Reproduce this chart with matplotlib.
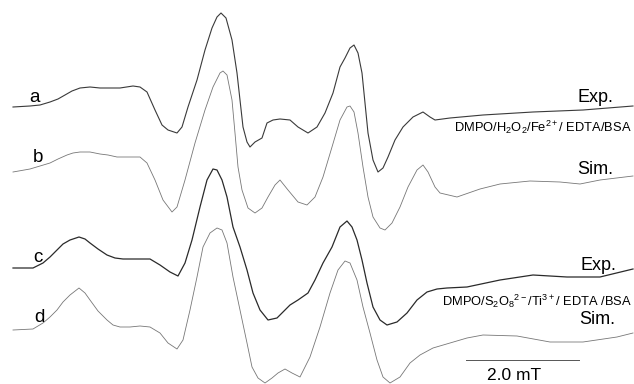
import matplotlib
matplotlib.use('Agg')
import matplotlib.pyplot as plt

plt.rcParams['font.family'] = ['Liberation Sans', 'DejaVu Sans']
plt.rcParams['mathtext.fontset'] = 'custom'
plt.rcParams['mathtext.rm'] = 'Liberation Sans'
plt.rcParams['mathtext.it'] = 'Liberation Sans:italic'

# field in arbitrary units (about 56.5 units per mT), signal
# (signal grows downward, stacked traces share one frame)
a_field = [13, 30, 40, 50, 58, 65, 72, 80, 90, 100, 110, 120, 133, 140, 147, 155, 162, 168, 177, 182, 188,
           197, 205, 212, 217, 221, 226, 232, 237, 240, 243, 247, 250, 255, 262, 267, 273, 280, 290, 298,
           308, 317, 325, 333, 340, 345, 350, 354, 358, 362, 365, 368, 373, 378, 383, 388, 395, 403, 413,
           423, 430, 435, 450, 483, 533, 583, 633]
a_signal = [107, 106, 105, 102, 99, 95, 91, 88, 87, 88, 88, 88, 86, 87, 92, 110, 125, 130, 133, 127, 107,
            80, 50, 28, 17, 13, 18, 40, 73, 100, 127, 142, 147, 142, 138, 123, 120, 119, 120, 127,
            133, 127, 113, 93, 67, 58, 48, 45, 53, 73, 103, 133, 160, 172, 168, 157, 140, 127, 117,
            112, 117, 120, 118, 115, 112, 110, 106]

b_field = [13, 30, 40, 50, 58, 67, 73, 80, 90, 100, 108, 117, 125, 133, 140, 147, 155, 163, 172, 177, 185,
           195, 205, 213, 220, 223, 227, 232, 235, 238, 242, 248, 255, 262, 268, 275, 280, 288, 298, 307,
           315, 323, 332, 340, 347, 350, 354, 358, 363, 368, 373, 380, 385, 392, 400, 408, 417, 423, 428,
           435, 440, 457, 480, 500, 530, 560, 580, 600, 633]
b_signal = [172, 169, 166, 163, 159, 155, 153, 152, 152, 154, 155, 157, 157, 157, 157, 163, 180, 200, 212, 207, 180,
            143, 110, 87, 73, 71, 75, 100, 133, 167, 190, 208, 213, 208, 197, 185, 180, 190, 202, 205,
            197, 177, 147, 120, 107, 106, 112, 133, 167, 197, 217, 228, 230, 223, 207, 187, 170, 165, 172,
            187, 193, 197, 189, 184, 181, 182, 184, 180, 176]

c_field = [13, 33, 43, 50, 57, 63, 70, 79, 85, 90, 98, 107, 115, 123, 140, 150, 160, 170, 178, 185, 192,
           200, 207, 213, 217, 222, 227, 233, 240, 247, 253, 260, 268, 277, 283, 290, 298, 308, 315, 323,
           332, 340, 347, 352, 357, 362, 367, 373, 380, 387, 397, 407, 417, 427, 437, 447, 467, 500, 533,
           567, 600, 633]
c_signal = [268, 268, 263, 257, 250, 244, 240, 237, 239, 243, 249, 255, 258, 259, 259, 259, 265, 272, 276, 263, 240,
            207, 180, 169, 170, 180, 197, 227, 247, 270, 293, 310, 320, 318, 312, 305, 300, 293, 280, 263,
            247, 227, 221, 227, 240, 260, 283, 307, 320, 325, 322, 313, 300, 292, 289, 288, 287, 280, 275,
            277, 277, 269]

d_field = [13, 33, 43, 50, 57, 63, 70, 79, 85, 90, 98, 107, 113, 120, 130, 140, 150, 160, 168, 177, 183,
           190, 197, 203, 210, 217, 222, 227, 233, 240, 247, 252, 258, 265, 272, 278, 285, 292, 300, 310,
           320, 330, 338, 345, 350, 357, 363, 370, 377, 383, 390, 400, 410, 420, 433, 450, 467, 483, 517,
           550, 583, 617, 633]
d_signal = [330, 329, 323, 317, 310, 302, 295, 288, 293, 300, 311, 320, 325, 327, 327, 326, 327, 333, 343, 349, 340,
            310, 277, 247, 233, 228, 230, 243, 277, 310, 343, 367, 378, 383, 378, 373, 369, 373, 377, 357,
            327, 293, 270, 261, 263, 280, 307, 333, 360, 377, 383, 377, 363, 355, 348, 343, 338, 335, 336,
            342, 342, 337, 333]

letters = ['a', 'b', 'c', 'd']
letter_pos = [(34, 97), (38, 158), (38, 258), (39, 317)]
tags = ['Exp.', 'Sim.', 'Exp.', 'Sim.']
tag_pos = [(595, 97), (595, 170), (598, 265), (597, 319)]
systems = [r'DMPO/H$_2$O$_2$/Fe$^{2+}$/ EDTA/BSA', r'DMPO/S$_2$O$_8$$^{2-}$/Ti$^{3+}$/ EDTA /BSA']
system_pos = [(632, 127), (632, 301)]

units_per_mT = 56.5
bar_mT = 2.0

fig = plt.figure(figsize=(6.34, 3.84), dpi=100)
ax = fig.add_axes([0, 0, 1, 1])

ax.plot(a_field, a_signal, color='#3a3a3a', lw=0.8)
ax.plot(b_field, b_signal, color='#777777', lw=0.6)
ax.plot(c_field, c_signal, color='#2a2a2a', lw=0.9)
ax.plot(d_field, d_signal, color='#777777', lw=0.6)

for lab, (x, y) in zip(letters, letter_pos):
    ax.text(x, y, lab, fontsize=13.5, ha='center', va='center')
for t, (x, y) in zip(tags, tag_pos):
    ax.text(x, y, t, fontsize=13, ha='center', va='center')
for s, (x, y) in zip(systems, system_pos):
    ax.text(x, y, s, fontsize=9.3, ha='right', va='center')

# scale bar
bar_x0 = 466
ax.plot([bar_x0, bar_x0 + bar_mT * units_per_mT], [360, 360], color='#555555', lw=0.7)
ax.text(bar_x0 + bar_mT * units_per_mT / 2 - 8, 375, f'{bar_mT:.1f} mT', fontsize=12.5, ha='center', va='center')

ax.set_xlim(0, 634)
ax.set_ylim(384, 0)
ax.axis('off')

fig.savefig('out.png', dpi=100)
